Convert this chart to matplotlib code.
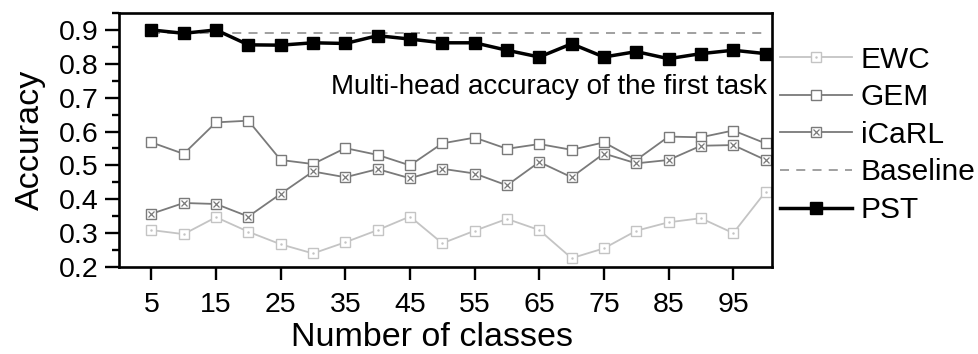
import matplotlib
matplotlib.use("Agg")
import matplotlib.pyplot as plt
from matplotlib.legend_handler import HandlerTuple
from matplotlib.ticker import MultipleLocator

plt.rcParams['font.family'] = ['Liberation Sans', 'DejaVu Sans']

# число класів
classes = [5, 10, 15, 20, 25, 30, 35, 40, 45, 50, 55, 60, 65, 70, 75, 80, 85, 90, 95, 100]

ewc = [0.309, 0.297, 0.347, 0.304, 0.267, 0.240, 0.273, 0.309, 0.349, 0.270,
       0.307, 0.342, 0.309, 0.226, 0.255, 0.307, 0.332, 0.344, 0.300, 0.422]
gem = [0.568, 0.534, 0.627, 0.632, 0.516, 0.504, 0.551, 0.531, 0.500, 0.565,
       0.582, 0.549, 0.563, 0.546, 0.568, 0.516, 0.585, 0.583, 0.603, 0.565]
icarl = [0.357, 0.389, 0.386, 0.349, 0.416, 0.482, 0.465, 0.489, 0.462, 0.490,
         0.476, 0.441, 0.510, 0.465, 0.535, 0.506, 0.516, 0.558, 0.560, 0.516]
pst = [0.900, 0.890, 0.900, 0.856, 0.855, 0.862, 0.860, 0.883, 0.873, 0.862,
       0.862, 0.840, 0.820, 0.859, 0.820, 0.836, 0.815, 0.830, 0.840, 0.830]
baseline = 0.89

xticks = [5, 15, 25, 35, 45, 55, 65, 75, 85, 95]
yticks = [0.2, 0.3, 0.4, 0.5, 0.6, 0.7, 0.8, 0.9]

fig = plt.figure(figsize=(9.79, 3.54), dpi=100)
ax = fig.add_axes([0.1216, 0.2458, 0.667, 0.7175])

c_ewc = '#c4c4c4'
c_gem = '#7a7a7a'
c_icarl = '#7a7a7a'

l_ewc, = ax.plot(classes, ewc, color=c_ewc, lw=1.3, marker='s', ms=6.5,
                 mfc='white', mec=c_ewc, mew=1.0)
d_ewc, = ax.plot(classes, ewc, ls='none', marker='.', ms=1.5, color=c_ewc)

l_gem, = ax.plot(classes, gem, color=c_gem, lw=1.3, marker='s', ms=7,
                 mfc='white', mec=c_gem, mew=1.0)

l_icarl, = ax.plot(classes, icarl, color=c_icarl, lw=1.3, marker='s', ms=7,
                   mfc='white', mec=c_icarl, mew=1.0)
x_icarl, = ax.plot(classes, icarl, ls='none', marker='x', ms=4.5, mew=0.9,
                   color=c_icarl)

l_base, = ax.plot([classes[0], classes[-1]], [baseline, baseline], color='#999999',
                  lw=1.3, ls=(0, (5, 4)))

l_pst, = ax.plot(classes, pst, color='black', lw=2.5, marker='s', ms=8,
                 mfc='black', mec='black')

ax.text(0.992, 0.708, 'Multi-head accuracy of the first task', transform=ax.transAxes,
        ha='right', va='center', fontsize=20)

ax.set_xlim(0, 101)
ax.set_ylim(0.2, 0.95)
ax.set_xticks(xticks)
ax.set_yticks(yticks)
ax.yaxis.set_minor_locator(MultipleLocator(0.05))
ax.set_yticklabels([f'{v:.1f}' for v in yticks])

ax.tick_params(axis='x', direction='out', length=9, width=1.7, labelsize=20.5, pad=9)
ax.tick_params(axis='y', which='major', direction='out', length=10, width=1.7,
               labelsize=20.5, pad=5)
ax.tick_params(axis='y', which='minor', direction='out', length=5, width=1.7)
for s in ax.spines.values():
    s.set_linewidth(1.9)

ax.set_xlabel('Number of classes', fontsize=24.5, labelpad=3)
ax.xaxis.label.set_x(0.479)
ax.set_ylabel('Accuracy', fontsize=24.5, labelpad=9)

fig.legend([(l_ewc, d_ewc), l_gem, (l_icarl, x_icarl), l_base, l_pst],
           ['EWC', 'GEM', 'iCaRL', 'Baseline', 'PST'],
           handler_map={tuple: HandlerTuple(ndivide=1)},
           loc='center left', bbox_to_anchor=(0.797, 0.619), frameon=False,
           fontsize=21.5, handlelength=2.4, handletextpad=0.3, labelspacing=0.32,
           borderpad=0, borderaxespad=0)

fig.savefig('out.png', dpi=100)
